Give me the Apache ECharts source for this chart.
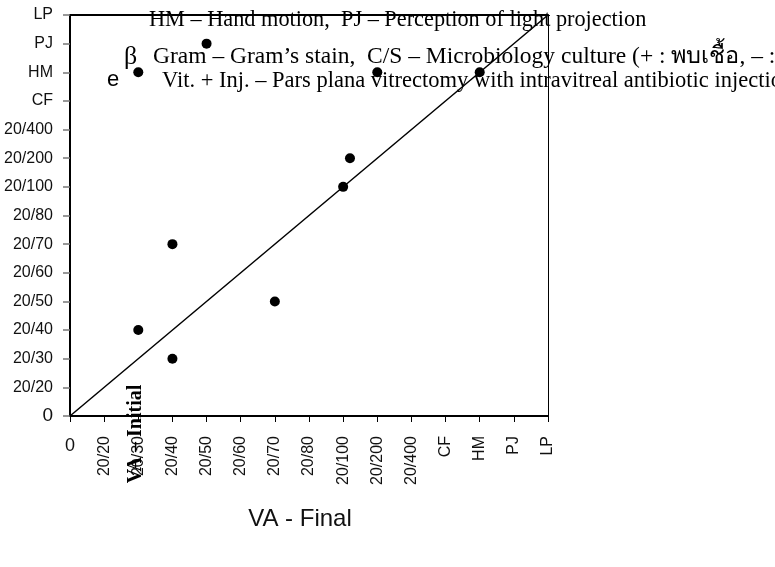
<!DOCTYPE html>
<html>
<head>
<meta charset="utf-8">
<script src="https://cdn.jsdelivr.net/npm/echarts@6/dist/echarts.min.js"></script>
<style>html,body{margin:0;padding:0;background:#fff}#c{width:775px;height:567px}</style>
</head>
<body>
<div id="c"></div>
<script>
// Visual acuity scale (shared by both axes)
var vaLabels = ['0','20/20','20/30','20/40','20/50','20/60','20/70','20/80','20/100','20/200','20/400','CF','HM','PJ','LP'];
// Each patient: final VA (x) and initial VA (y), as index on the scale
var vaFinal   = [2, 4, 9, 12, 8.2, 8, 3, 2, 3, 6];
var vaInitial = [12, 13, 12, 12, 9, 8, 6, 3, 2, 4];
// Reference line of equality
var refX = [0, 14];
var refY = [0, 14];

var noteLine1 = 'HM \u2013 Hand motion,  PJ \u2013 Perception of light projection';
var noteLine2 = 'Gram \u2013 Gram\u2019s stain,  C/S \u2013 Microbiology culture (+ : \u0e1e\u0e1a\u0e40\u0e0a\u0e37\u0e49\u0e2d, \u2013 :';
var noteLine3 = 'Vit. + Inj. \u2013 Pars plana vitrectomy with intravitreal antibiotic injection';

var SANS = '"Liberation Sans", Arial, sans-serif';
var SERIF = '"Liberation Serif", "Times New Roman", serif';

var points = vaFinal.map(function (v, i) { return [v, vaInitial[i]]; });
var ref = refX.map(function (v, i) { return [v, refY[i]]; });

var chart = echarts.init(document.getElementById('c'));
chart.setOption({
  animation: false,
  backgroundColor: '#fff',
  grid: { left: 70, right: 227, top: 15, bottom: 151, containLabel: false },
  xAxis: [
    {
      type: 'value', min: 0, max: 14, interval: 1, position: 'bottom',
      axisLine: { show: true, onZero: false, lineStyle: { color: '#000', width: 2 } },
      axisTick: { show: true, length: 6, lineStyle: { color: '#000', width: 1 } },
      splitLine: { show: false },
      axisLabel: {
        rotate: 90, margin: 20, fontSize: 16, color: '#111', fontFamily: SANS,
        showMinLabel: true, showMaxLabel: true,
        formatter: function (v) { return v === 0 ? '' : vaLabels[v]; }
      }
    },
    {
      type: 'value', min: 0, max: 14, interval: 1, position: 'bottom',
      axisLine: { show: false }, axisTick: { show: false }, splitLine: { show: false },
      axisLabel: {
        margin: 21, fontSize: 18, color: '#111', fontFamily: SANS, showMinLabel: true,
        formatter: function (v) { return v === 0 ? vaLabels[0] : ''; }
      }
    },
    {
      type: 'value', min: 0, max: 14, interval: 1, position: 'top',
      axisLine: { show: true, onZero: false, lineStyle: { color: '#000', width: 2 } },
      axisTick: { show: false }, axisLabel: { show: false }, splitLine: { show: false }
    }
  ],
  yAxis: [
    {
      type: 'value', min: 0, max: 14, interval: 1, position: 'left',
      axisLine: { show: true, onZero: false, lineStyle: { color: '#000', width: 2 } },
      axisTick: { show: true, length: 7, lineStyle: { color: '#777', width: 1.5 } },
      splitLine: { show: false },
      axisLabel: {
        margin: 17, fontSize: 16, color: '#111', fontFamily: SANS,
        showMinLabel: true, showMaxLabel: true,
        formatter: function (v) { return v === 0 ? '{big|' + vaLabels[0] + '}' : vaLabels[v]; },
        rich: { big: { fontSize: 19, fontFamily: SANS, color: '#111' } }
      }
    },
    {
      type: 'value', min: 0, max: 14, interval: 1, position: 'right',
      axisLine: { show: true, onZero: false, lineStyle: { color: '#000', width: 1 } },
      axisTick: { show: false }, axisLabel: { show: false }, splitLine: { show: false }
    }
  ],
  series: [
    {
      type: 'line', xAxisIndex: 0, yAxisIndex: 0, data: ref, symbol: 'none',
      lineStyle: { color: '#000', width: 1.5 }, z: 3
    },
    {
      type: 'scatter', xAxisIndex: 0, yAxisIndex: 0, data: points,
      symbol: 'circle', symbolSize: 10, itemStyle: { color: '#000', opacity: 1 }, z: 4
    }
  ],
  graphic: [
    { type: 'text', x: 149, y: 20, z: 10, style: { text: noteLine1, font: '22.3px ' + SERIF, fill: '#000', verticalAlign: 'middle' } },
    { type: 'text', x: 124, y: 57, z: 10, style: { text: '\u03b2', font: '26px ' + SERIF, fill: '#000', verticalAlign: 'middle' } },
    { type: 'text', x: 153, y: 57, z: 10, style: { text: noteLine2, font: '23.5px ' + SERIF, fill: '#000', verticalAlign: 'middle' } },
    { type: 'text', x: 107, y: 80, z: 10, style: { text: 'e', font: '22px ' + SANS, fill: '#000', verticalAlign: 'middle' } },
    { type: 'text', x: 162, y: 81, z: 10, style: { text: noteLine3, font: '22.5px ' + SERIF, fill: '#000', verticalAlign: 'middle' } },
    { type: 'text', x: 136, y: 434, rotation: Math.PI / 2, z: 10, style: { text: 'VA \u2013 Initial', font: 'bold 20px ' + SERIF, fill: '#000', align: 'center', verticalAlign: 'middle' } },
    { type: 'text', x: 300, y: 519, z: 10, style: { text: 'VA - Final', font: '24px ' + SANS, fill: '#111', align: 'center', verticalAlign: 'middle' } }
  ]
});
</script>
</body>
</html>
